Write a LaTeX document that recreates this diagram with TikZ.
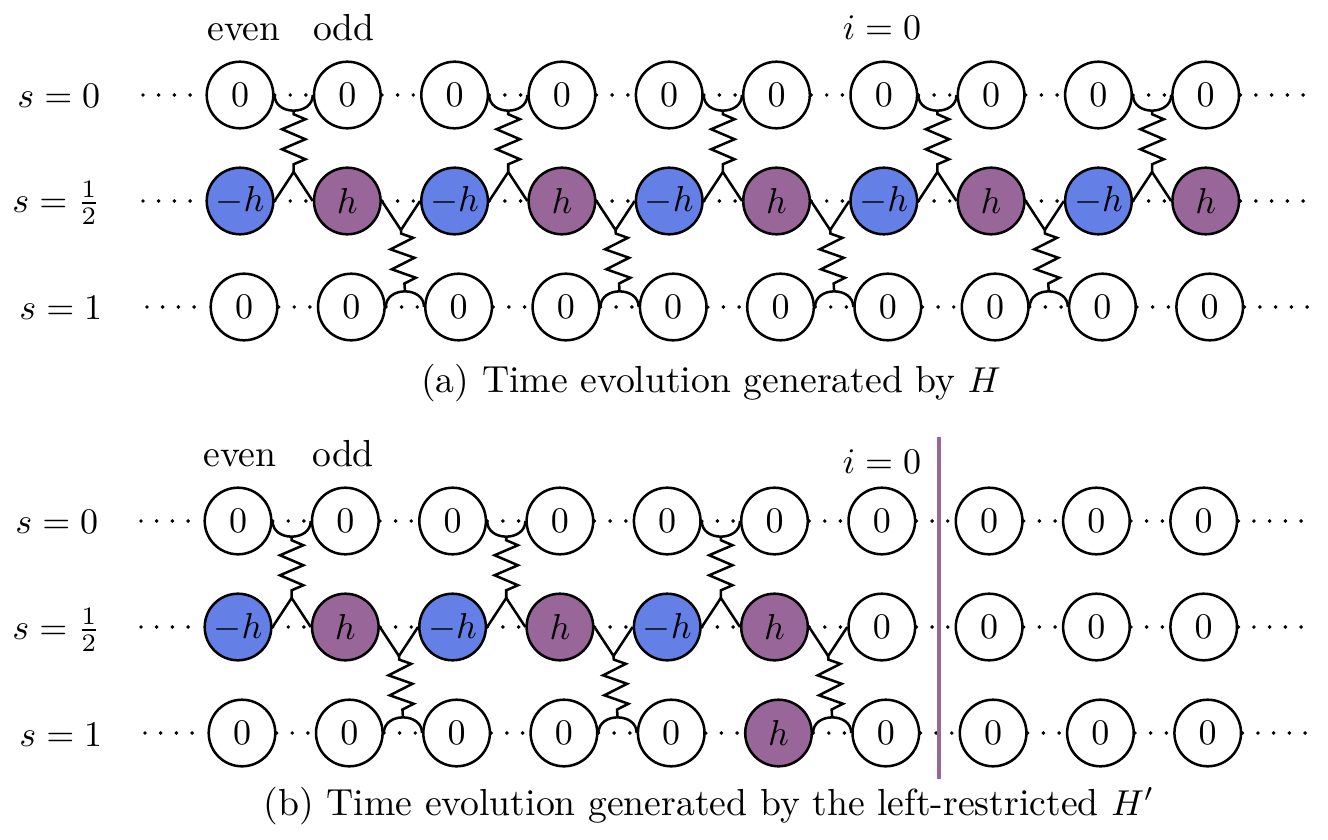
\documentclass[tikz,border=0pt]{standalone}
\usetikzlibrary{decorations.pathmorphing,calc}
\definecolor{hblue}{RGB}{100,128,230}
\definecolor{hpurple}{RGB}{153,102,153}
\begin{document}
\begin{tikzpicture}[x=0.2778pt,y=0.2778pt,
  every node/.style={font=\fontsize{10.47}{12.6}\selectfont},
  site/.style={circle,draw,line width=0.7pt,minimum size=18.5pt,inner sep=0pt,fill=white},
  negsite/.style={site,fill=hblue},
  possite/.style={site,fill=hpurple},
  dots/.style={line width=1.1pt,line cap=round,dash pattern=on 0pt off 4.36pt},
  link/.style={line width=0.7pt},
  spring/.style={line width=0.7pt,decorate,decoration={zigzag,segment length=5.56pt,amplitude=3.25pt,pre length=1pt,post length=1pt}},
  lbl/.style={inner sep=0pt,anchor=base},
  rowlbl/.style={inner sep=0pt,anchor=base east},
  wall/.style={draw=hpurple,line width=1.1pt}]
\useasboundingbox (0,0) rectangle (1328,-840);

% ---------------- panel (a) ----------------
\foreach \i in {1,...,10} {
  \node[site] (at\i) at ({240+107.3*(\i-1)},-95) {$0$};
  \node[site] (ab\i) at ({244+107.3*(\i-1)},-307) {$0$};
}
\foreach \i in {1,3,5,7,9} { \node[negsite] (am\i) at ({240+107.3*(\i-1)},-201) {$-h$}; }
\foreach \i in {2,4,6,8,10} { \node[possite] (am\i) at ({240+107.3*(\i-1)},-201) {$h$}; }

\coordinate (ast) at (143,-95);  \coordinate (aet) at (1308,-95);
\coordinate (asm) at (143,-201); \coordinate (aem) at (1308,-201);
\coordinate (asb) at (147,-307); \coordinate (aeb) at (1308,-307);
\draw[dots] (ast) -- (at1);
\draw[dots] (asm) -- (am1);
\draw[dots] (asb) -- (ab1);
\foreach \k [evaluate=\k as \n using int(\k+1)] in {1,...,9} {
  \draw[dots] (at\k) -- (at\n);
  \draw[dots] (am\k) -- (am\n);
  \draw[dots] (ab\k) -- (ab\n);
}
\draw[dots] (at10) -- (aet);
\draw[dots] (am10) -- (aem);
\draw[dots] (ab10) -- (aeb);

\foreach \k [evaluate=\k as \n using int(\k+1)] in {1,3,5,7,9} {
  \draw[link] (at\k.east) to[out=-90,in=-90,looseness=1.4] coordinate[pos=0.5] (atc\k) (at\n.west);
  \coordinate (aap\k) at ($(am\k.east)!0.5!(am\n.west)+(0,29)$);
  \draw[link] (am\k.east) -- (aap\k) -- (am\n.west);
  \draw[spring] (atc\k) -- (aap\k);
}
\foreach \k [evaluate=\k as \n using int(\k+1)] in {2,4,6,8} {
  \draw[link] (ab\k.east) to[out=90,in=90,looseness=1.4] coordinate[pos=0.5] (abc\k) (ab\n.west);
  \coordinate (abp\k) at ($(am\k.east)!0.5!(am\n.west)+(0,-29)$);
  \draw[link] (am\k.east) -- (abp\k) -- (am\n.west);
  \draw[spring] (abp\k) -- (abc\k);
}

\node[lbl] (evena) at (244,-41) {even};
\node[lbl] (odda) at (344,-41) {odd};
\node[lbl] (ia) at (882,-40) {$i=0$};
\node[rowlbl] (sa0) at (101,-108) {$s=0$};
\node[rowlbl] (sa1) at (101,-212) {$s=\frac{1}{2}$};
\node[rowlbl] (sa2) at (103,-319) {$s=1$};
\node[lbl] (capa) at (711,-392) {(a) Time evolution generated by $H$};

% ---------------- panel (b) ----------------
\foreach \i in {1,...,10} {
  \node[site] (bt\i) at ({238+107.3*(\i-1)},-521) {$0$};
}
\foreach \i in {1,2,3,4,5,7,8,9,10} {
  \node[site] (bb\i) at ({242+107.3*(\i-1)},-733) {$0$};
}
\node[possite] (bb6) at ({242+107.3*5},-733) {$h$};
\foreach \i in {1,3,5} { \node[negsite] (bm\i) at ({238+107.3*(\i-1)},-627) {$-h$}; }
\foreach \i in {2,4,6} { \node[possite] (bm\i) at ({238+107.3*(\i-1)},-627) {$h$}; }
\foreach \i in {7,8,9,10} { \node[site] (bm\i) at ({238+107.3*(\i-1)},-627) {$0$}; }

\coordinate (bst) at (141,-521); \coordinate (bet) at (1308,-521);
\coordinate (bsm) at (141,-627); \coordinate (bem) at (1308,-627);
\coordinate (bsb) at (145,-733); \coordinate (beb) at (1308,-733);
\draw[dots] (bst) -- (bt1);
\draw[dots] (bsm) -- (bm1);
\draw[dots] (bsb) -- (bb1);
\foreach \k [evaluate=\k as \n using int(\k+1)] in {1,...,9} {
  \draw[dots] (bt\k) -- (bt\n);
  \draw[dots] (bm\k) -- (bm\n);
  \draw[dots] (bb\k) -- (bb\n);
}
\draw[dots] (bt10) -- (bet);
\draw[dots] (bm10) -- (bem);
\draw[dots] (bb10) -- (beb);

\foreach \k [evaluate=\k as \n using int(\k+1)] in {1,3,5} {
  \draw[link] (bt\k.east) to[out=-90,in=-90,looseness=1.4] coordinate[pos=0.5] (btc\k) (bt\n.west);
  \coordinate (bap\k) at ($(bm\k.east)!0.5!(bm\n.west)+(0,29)$);
  \draw[link] (bm\k.east) -- (bap\k) -- (bm\n.west);
  \draw[spring] (btc\k) -- (bap\k);
}
\foreach \k [evaluate=\k as \n using int(\k+1)] in {2,4,6} {
  \draw[link] (bb\k.east) to[out=90,in=90,looseness=1.4] coordinate[pos=0.5] (bbc\k) (bb\n.west);
  \coordinate (bbp\k) at ($(bm\k.east)!0.5!(bm\n.west)+(0,-29)$);
  \draw[link] (bm\k.east) -- (bbp\k) -- (bm\n.west);
  \draw[spring] (bbp\k) -- (bbc\k);
}

\coordinate (wtop) at (939,-437);
\coordinate (wbot) at (939,-779);
\draw[wall] (wtop) -- (wbot);

\node[lbl] (evenb) at (240,-466) {even};
\node[lbl] (oddb) at (343,-466) {odd};
\node[lbl] (ib) at (882,-473) {$i=0$};
\node[rowlbl] (sb0) at (99,-533) {$s=0$};
\node[rowlbl] (sb1) at (101,-639) {$s=\frac{1}{2}$};
\node[rowlbl] (sb2) at (103,-746) {$s=1$};
\node[lbl] (capb) at (709,-815) {(b) Time evolution generated by the left-restricted $H'$};
\end{tikzpicture}
\end{document}
